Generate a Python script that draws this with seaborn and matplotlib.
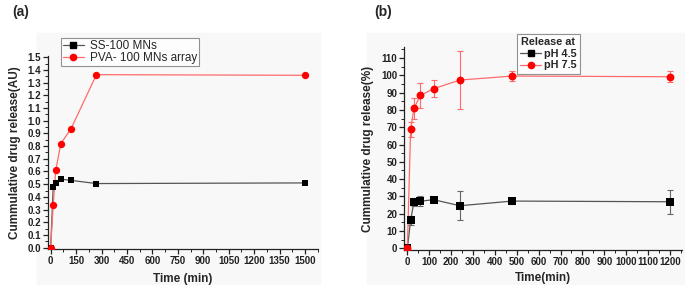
import numpy as np
import pandas as pd
import seaborn as sns
import matplotlib as mpl
mpl.use('Agg')
import matplotlib.pyplot as plt
from matplotlib.lines import Line2D
from matplotlib.patches import Rectangle
from matplotlib.ticker import MultipleLocator

# panel (a): cumulative release (AU)
t_a = [0, 15, 30, 60, 120, 270, 1500]
ss_100 = [0.0, 0.48, 0.51, 0.54, 0.53, 0.505, 0.51]
pva_100 = [0.0, 0.337, 0.61, 0.82, 0.937, 1.363, 1.358]
labels_a = ["SS-100 MNs", "PVA- 100 MNs array"]

# panel (b): cumulative release (%) with error bars
t_b = [0, 15, 30, 60, 120, 240, 480, 1200]
ph45 = [0, 16.2, 26.8, 27.2, 28.1, 24.6, 27.3, 26.9]
ph45_err = [0, 2.5, 2.5, 3.0, 1.5, 8.5, 1.7, 7.0]
ph75 = [0, 68.8, 80.9, 88.4, 92.3, 97.3, 99.6, 99.2]
ph75_err = [0, 4.5, 6.0, 7.0, 5.0, 17.0, 2.7, 3.2]
labels_b = ["pH 4.5", "pH 7.5"]

sns.set_theme(style="ticks")
plt.rcParams['font.family'] = ['Liberation Sans', 'DejaVu Sans']

BLACK_LINE = "#555555"
RED_LINE = "#ff6b6b"

fig = plt.figure(figsize=(6.85, 2.85), dpi=100)
# faint grey panels behind each plot
for x0, w in [(37, 283), (367, 318)]:
    fig.add_artist(Rectangle((x0 / 685, 0), w / 685, 252 / 285, transform=fig.transFigure,
                             color="#f8f8f8", zorder=-10))

ax1 = fig.add_axes([48.3 / 685, 1 - 249.3 / 285, (318 - 48.3) / 685, (249.3 - 56) / 285])
ax2 = fig.add_axes([404.3 / 685, 1 - 250 / 285, (682 - 404.3) / 685, (250 - 47) / 285])


def style_axes(ax):
    ax.set_facecolor("none")
    sns.despine(ax=ax)
    for s in ["left", "bottom"]:
        ax.spines[s].set_linewidth(0.9)
        ax.spines[s].set_color("#222222")
    ax.tick_params(which="major", direction="out", length=3.5, width=0.9,
                   labelsize=7, pad=1.5, colors="#222222")
    ax.tick_params(which="minor", direction="out", length=2, width=0.7, colors="#222222")
    for lab in ax.get_xticklabels() + ax.get_yticklabels():
        lab.set_fontweight("bold")


# ---- panel (a)
df_a = pd.DataFrame({"t": t_a * 2, "v": ss_100 + pva_100,
                     "s": [labels_a[0]] * len(t_a) + [labels_a[1]] * len(t_a)})
sns.lineplot(data=df_a, x="t", y="v", hue="s", palette=[BLACK_LINE, RED_LINE],
             linewidth=0.9, legend=False, ax=ax1, zorder=2)
sns.scatterplot(x=t_a, y=ss_100, marker="s", color="black", s=24, linewidth=0, ax=ax1, zorder=3)
sns.scatterplot(x=t_a, y=pva_100, marker="o", color="red", s=28, linewidth=0, ax=ax1, zorder=4)
ax1.set_xlim(-14, 1577)
ax1.set_ylim(-0.013, 1.51)
ax1.xaxis.set_major_locator(MultipleLocator(150))
ax1.xaxis.set_minor_locator(MultipleLocator(75))
ax1.yaxis.set_major_locator(MultipleLocator(0.1))
ax1.yaxis.set_minor_locator(MultipleLocator(0.05))
ax1.yaxis.set_major_formatter(mpl.ticker.FormatStrFormatter("%.1f"))
ax1.set_xlabel("Time (min)", fontsize=8.5, fontweight="bold", labelpad=5)
ax1.set_ylabel("Cummulative drug release(AU)", fontsize=8.5, fontweight="bold", labelpad=5)
style_axes(ax1)
h_a = [Line2D([], [], color=BLACK_LINE, lw=0.9, marker="s", mfc="black", mec="black", ms=4),
       Line2D([], [], color=RED_LINE, lw=0.9, marker="o", mfc="red", mec="red", ms=4.5)]
leg = ax1.legend(h_a, labels_a, loc="upper left", bbox_to_anchor=(61 / 685, 1 - 38 / 285),
                 bbox_transform=fig.transFigure, borderaxespad=0,
                 fontsize=8.5, frameon=True, fancybox=False, edgecolor="#777777",
                 handlelength=1.8, borderpad=0.15, labelspacing=0.05, handletextpad=0.5)
leg.get_frame().set_linewidth(0.8)

# ---- panel (b)
df_b = pd.DataFrame({"t": t_b * 2, "v": ph45 + ph75,
                     "s": [labels_b[0]] * len(t_b) + [labels_b[1]] * len(t_b)})
sns.lineplot(data=df_b, x="t", y="v", hue="s", palette=[BLACK_LINE, RED_LINE],
             linewidth=0.9, legend=False, ax=ax2, zorder=2)
ax2.errorbar(t_b, ph45, yerr=ph45_err, fmt="none", ecolor="#666666", elinewidth=0.8,
             capsize=2.5, capthick=0.8, zorder=2)
ax2.errorbar(t_b, ph75, yerr=ph75_err, fmt="none", ecolor=RED_LINE, elinewidth=0.8,
             capsize=2.5, capthick=0.8, zorder=2)
sns.scatterplot(x=t_b, y=ph45, marker="s", color="black", s=30, linewidth=0, ax=ax2, zorder=3)
sns.scatterplot(x=t_b, y=ph75, marker="o", color="red", s=32, linewidth=0, ax=ax2, zorder=4)
ax2.set_xlim(-14, 1255)
ax2.set_ylim(-1, 116.4)
ax2.xaxis.set_major_locator(MultipleLocator(100))
ax2.xaxis.set_minor_locator(MultipleLocator(50))
ax2.yaxis.set_major_locator(MultipleLocator(10))
ax2.yaxis.set_minor_locator(MultipleLocator(5))
ax2.set_xlabel("Time(min)", fontsize=8.5, fontweight="bold", labelpad=4)
ax2.set_ylabel("Cummulative drug release(%)", fontsize=8.5, fontweight="bold", labelpad=5)
style_axes(ax2)
h_b = [Line2D([], [], color=BLACK_LINE, lw=0.9, marker="s", mfc="black", mec="black", ms=4),
       Line2D([], [], color=RED_LINE, lw=0.9, marker="o", mfc="red", mec="red", ms=4.5)]
leg2 = ax2.legend(h_b, labels_b, title="Release at", loc="upper left",
                  bbox_to_anchor=(517 / 685, 1 - 34 / 285), bbox_transform=fig.transFigure,
                  borderaxespad=0, prop={"size": 7.8, "weight": "bold"},
                  frameon=True, fancybox=False, edgecolor="#777777",
                  handlelength=1.9, borderpad=0.3, labelspacing=0.15, handletextpad=0.3)
leg2.get_title().set_fontweight("bold")
leg2.get_title().set_fontsize(7.8)
leg2.get_frame().set_linewidth(0.8)

fig.text(12 / 685, 1 - 12 / 285, "(a)", fontsize=10, fontweight="bold", va="center")
fig.text(374 / 685, 1 - 12 / 285, "(b)", fontsize=10, fontweight="bold", va="center")

fig.savefig("out.png", dpi=100)
